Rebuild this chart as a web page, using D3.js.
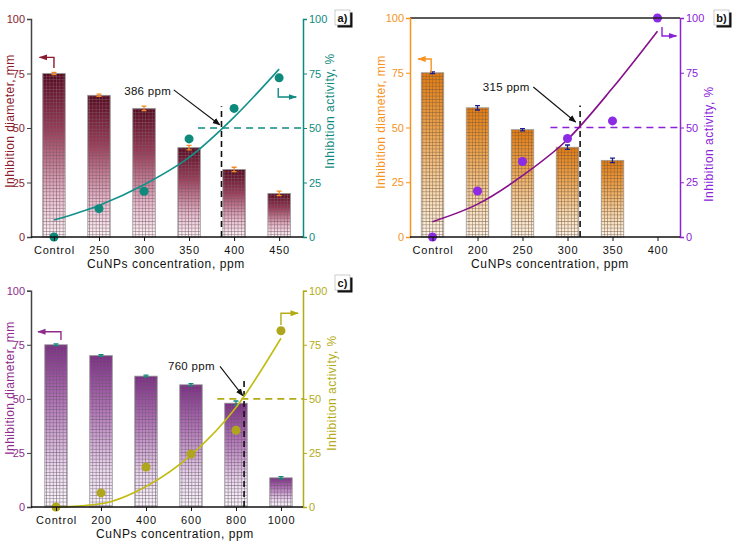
<!DOCTYPE html>
<html><head><meta charset="utf-8">
<script src="https://cdn.jsdelivr.net/npm/d3@7"></script>
<style>body{margin:0;background:#fff}svg{display:block;font-family:"Liberation Sans",Arial,sans-serif}</style>
</head><body><svg id="c" width="733" height="542"></svg>
<script>
// ---------- DATA ----------
// Panel a
const catsA = ["Control","250","300","350","400","450"];
const concA = [200,250,300,350,400,450];
const barsA = [75,65,59,41,31,20];
const errA = [0.5,0.5,1,1,1,1];
const ptsA = [0,13,21,45,59,73];
const fitConcA = [200,250,300,350,400,450];
const fitValA = [7.8,14.5,24,36.5,55,77];
// Panel b
const catsB = ["Control","200","250","300","350","400"];
const concB = [150,200,250,300,350,400];
const barsB = [75,59,49,41,35];
const errB = [0.4,1,0.5,1,1];
const ptsB = [0,21,34.5,45,53,100];
const fitConcB = [150,200,250,300,350,400];
const fitValB = [7,15,28,44.5,68,94];
// Panel c
const catsC = ["Control","200","400","600","800","1000"];
const concC = [0,200,400,600,800,1000];
const barsC = [75,70,60.5,56.5,48,13.5];
const errC = [0.4,0.4,0.5,0.5,1,0.5];
const ptsC = [0,6.5,18.5,24.5,35.5,81.5];
const fitConcC = [0,200,400,600,800,1000];
const fitValC = [0,1.5,9.5,24,46,78];
// IC50 annotations
const icA = {label:"386 ppm", x:386, hStart:360, text:[330,67], from:[333,67.5], to:[384,51.5]};
const icB = {label:"315 ppm", x:314, hStart:281, text:[258,68.5], from:[262,68.5], to:[309,52.5]};
const icC = {label:"760 ppm", x:836, hStart:717, text:[706,65], from:[729,65], to:[830,51.5]};
const yTicks = [0,25,50,75,100];

const panels = [
 {id:"a", cats:catsA, conc:concA, bars:barsA, err:errA, pts:ptsA, fx:fitConcA, fy:fitValA, ic:icA,
  L:31, R:303, T:19, B:237, idx:[-0.51,5.53], c0:200, step:50,
  leftCol:"#8b1a2c", leftAxis:"#444", rightCol:"#0f8a80", ptCol:"#0d8a7c", curveCol:"#12918a", errCol:"#f08a24",
  grad:["#55081f","#9c3c5a","#e9bfd0","#fbf6f8"], gridCol:"#7a5a66", topLine:false,
  lTitleY:121, rTitleY:111, lTitleX:10, rTitleX:330, xTitleX:166, xTitleY:268, tickY:253,
  lArrow:[[200,77.5],[200,82.4],[184,82.4]], rArrow:[[449,68.3],[449,64.2],[469,64.2]],
  box:[335,10]},
 {id:"b", cats:catsB, conc:concB, bars:barsB, err:errB, pts:ptsB, fx:fitConcB, fy:fitValB, ic:icB,
  L:410, R:680, T:18, B:237, idx:[-0.5,5.5], c0:150, step:50,
  leftCol:"#f7931e", leftAxis:"#f7931e", rightCol:"#8a22d8", ptCol:"#8b2be6", curveCol:"#86108a", errCol:"#1e1e8c",
  grad:["#e37b10","#eea550","#f6dcb8","#fbf5ee"], gridCol:"#7a5a3a", topLine:true,
  lTitleY:122, rTitleY:144, lTitleX:381, rTitleX:709, xTitleX:550, xTitleY:268, tickY:253,
  lArrow:[[148.5,75],[148.5,81.3],[134,81.3]], rArrow:[[405,95.9],[405,91.8],[421,91.8]],
  box:[714,10]},
 {id:"c", cats:catsC, conc:concC, bars:barsC, err:errC, pts:ptsC, fx:fitConcC, fy:fitValC, ic:icC,
  L:31, R:303, T:290.7, B:507, idx:[-0.556,5.49], c0:0, step:200,
  leftCol:"#8e2c8e", leftAxis:"#444", rightCol:"#b3ab16", ptCol:"#b0a61e", curveCol:"#c2bc12", errCol:"#14877c",
  grad:["#7e2a86","#b374b8","#ecd9ee","#fbf8fb"], gridCol:"#6a5a6e", topLine:false,
  lTitleY:388, rTitleY:393, lTitleX:10, rTitleX:332, xTitleX:175, xTitleY:538, tickY:523,
  lArrow:[[22,77.2],[22,81],[-80,81]], rArrow:[[1000,84.1],[1000,89.6],[1076,89.6]],
  box:[335,275]}
];

const svg = d3.select("#c");
const defs = svg.append("defs");
panels.forEach(p=>{
  const pat = defs.append("pattern").attr("id","grid"+p.id).attr("patternUnits","userSpaceOnUse")
    .attr("width",3.3).attr("height",3.3).attr("x",0).attr("y",0);
  pat.append("path").attr("d","M0,0.3H3.3M0.3,0V3.3").attr("stroke",p.gridCol).attr("stroke-width",0.7).attr("fill","none").attr("opacity",0.75);
  const g = defs.append("linearGradient").attr("id","grad"+p.id).attr("x1",0).attr("y1",0).attr("x2",0).attr("y2",1);
  [0,0.35,0.75,1].forEach((o,i)=>g.append("stop").attr("offset",o).attr("stop-color",p.grad[i]));
});
const mk = defs.append("marker").attr("id","arrBlack").attr("viewBox","0 0 10 10").attr("refX",9).attr("refY",5)
  .attr("markerWidth",7).attr("markerHeight",7).attr("orient","auto");
mk.append("path").attr("d","M0,1L10,5L0,9Z").attr("fill","#111");
panels.forEach(p=>{
  [["L",p.leftCol],["R",p.rightCol]].forEach(([s,c])=>{
    const m = defs.append("marker").attr("id","arr"+s+p.id).attr("viewBox","0 0 10 10").attr("refX",9).attr("refY",5)
      .attr("markerWidth",6).attr("markerHeight",6).attr("orient","auto");
    m.append("path").attr("d","M0,1.5L10,5L0,8.5Z").attr("fill",c);
  });
});

panels.forEach(p=>{
  const g = svg.append("g");
  const xi = d3.scaleLinear().domain(p.idx).range([p.L,p.R]);
  const x = c => xi((c-p.c0)/p.step);
  const y = d3.scaleLinear().domain([0,100]).range([p.B,p.T]);
  const bw = 22.5;
  p.bars.forEach((v,i)=>{
    const cx = x(p.conc[i]);
    g.append("rect").attr("x",cx-bw/2).attr("y",y(v)).attr("width",bw).attr("height",y(0)-y(v))
      .attr("fill","url(#grad"+p.id+")");
    g.append("rect").attr("x",cx-bw/2).attr("y",y(v)).attr("width",bw).attr("height",y(0)-y(v))
      .attr("fill","url(#grid"+p.id+")").attr("stroke","#9a9a9a").attr("stroke-width",0.8);
    const e = p.err[i];
    g.append("path").attr("d",`M${cx},${y(v+e)}V${y(v-e)}M${cx-2.5},${y(v+e)}H${cx+2.5}M${cx-2.5},${y(v-e)}H${cx+2.5}`)
      .attr("stroke",p.errCol).attr("stroke-width",1.3).attr("fill","none");
  });
  g.append("line").attr("x1",x(p.ic.hStart)).attr("x2",p.R).attr("y1",y(50)).attr("y2",y(50))
    .attr("stroke",p.rightCol).attr("stroke-width",1.6).attr("stroke-dasharray","7,5");
  g.append("line").attr("x1",x(p.ic.x)).attr("x2",x(p.ic.x)).attr("y1",y(0)).attr("y2",y(60))
    .attr("stroke","#111").attr("stroke-width",1.6).attr("stroke-dasharray","6,4");
  const line = d3.line().x(d=>x(d[0])).y(d=>y(d[1])).curve(d3.curveMonotoneX);
  g.append("path").attr("d",line(p.fx.map((c,i)=>[c,p.fy[i]]))).attr("fill","none")
    .attr("stroke",p.curveCol).attr("stroke-width",1.6);
  g.selectAll(null).data(p.pts).enter().append("circle")
    .attr("cx",(d,i)=>x(p.conc[i])).attr("cy",d=>y(d)).attr("r",4.5).attr("fill",p.ptCol);
  g.append("text").attr("x",x(p.ic.text[0])).attr("y",y(p.ic.text[1])+4).attr("text-anchor","end")
    .attr("font-size",11.5).attr("letter-spacing",0.3).attr("fill","#111").text(p.ic.label);
  g.append("line").attr("x1",x(p.ic.from[0])).attr("y1",y(p.ic.from[1])).attr("x2",x(p.ic.to[0])).attr("y2",y(p.ic.to[1]))
    .attr("stroke","#111").attr("stroke-width",1.1).attr("marker-end","url(#arrBlack)");
  const al = d3.line().x(d=>x(d[0])).y(d=>y(d[1]));
  g.append("path").attr("d",al(p.lArrow)).attr("fill","none").attr("stroke",p.leftCol).attr("stroke-width",1.4)
    .attr("marker-end","url(#arrL"+p.id+")");
  g.append("path").attr("d",al(p.rArrow)).attr("fill","none").attr("stroke",p.rightCol).attr("stroke-width",1.4)
    .attr("marker-end","url(#arrR"+p.id+")");
  if(p.topLine) g.append("line").attr("x1",p.L).attr("x2",p.R).attr("y1",p.T).attr("y2",p.T).attr("stroke","#222").attr("stroke-width",1.5);
  const ax = g.append("g").attr("transform",`translate(${p.L},0)`).call(d3.axisLeft(y).tickValues(yTicks).tickSize(4).tickPadding(2));
  ax.select(".domain").attr("stroke",p.leftAxis).attr("stroke-width",1.5);
  ax.selectAll(".tick line").attr("stroke",p.leftAxis);
  ax.selectAll(".tick text").attr("fill",p.leftCol).attr("font-size",11).attr("font-family","Liberation Sans, Arial");
  const ar = g.append("g").attr("transform",`translate(${p.R},0)`).call(d3.axisRight(y).tickValues(yTicks).tickSize(4).tickPadding(2));
  ar.select(".domain").attr("stroke",p.rightCol).attr("stroke-width",1.5);
  ar.selectAll(".tick line").attr("stroke",p.rightCol);
  ar.selectAll(".tick text").attr("fill",p.rightCol).attr("font-size",11).attr("font-family","Liberation Sans, Arial");
  const xs = d3.scaleOrdinal().domain(p.cats).range(p.conc.map(x));
  const xa = g.append("g").attr("transform",`translate(0,${p.B})`)
    .call(d3.axisBottom(xs).tickSize(4).tickPadding(5));
  xa.select(".domain").remove();
  g.append("line").attr("x1",p.L).attr("x2",p.R).attr("y1",p.B).attr("y2",p.B).attr("stroke","#111").attr("stroke-width",1.5);
  xa.selectAll(".tick line").attr("stroke","#111");
  xa.selectAll(".tick text").attr("fill","#111").attr("font-size",11).attr("letter-spacing",0.8).attr("font-family","Liberation Sans, Arial");
  g.append("text").attr("transform",`translate(${p.lTitleX},${p.lTitleY}) rotate(-90)`).attr("text-anchor","middle")
    .attr("dy","0.35em").attr("font-size",12).attr("letter-spacing",0.4).attr("fill",p.leftCol).text("Inhibition diameter, mm");
  g.append("text").attr("transform",`translate(${p.rTitleX},${p.rTitleY}) rotate(-90)`).attr("text-anchor","middle")
    .attr("dy","0.35em").attr("font-size",12).attr("letter-spacing",0.5).attr("fill",p.rightCol).text("Inhibition activity, %");
  g.append("text").attr("x",p.xTitleX).attr("y",p.xTitleY).attr("text-anchor","middle")
    .attr("font-size",12).attr("letter-spacing",0.6).attr("fill","#111").text("CuNPs concentration, ppm");
  const [bx,by] = p.box;
  g.append("rect").attr("x",bx+2.5).attr("y",by+2.5).attr("width",15).attr("height",15).attr("fill","#111");
  g.append("rect").attr("x",bx).attr("y",by).attr("width",15).attr("height",15).attr("fill","#fff").attr("stroke","#aaa").attr("stroke-width",0.6);
  g.append("text").attr("x",bx+7.5).attr("y",by+11.5).attr("text-anchor","middle").attr("font-size",11).attr("font-weight","bold")
    .attr("fill","#111").text(p.id+")");
});
</script></body></html>
